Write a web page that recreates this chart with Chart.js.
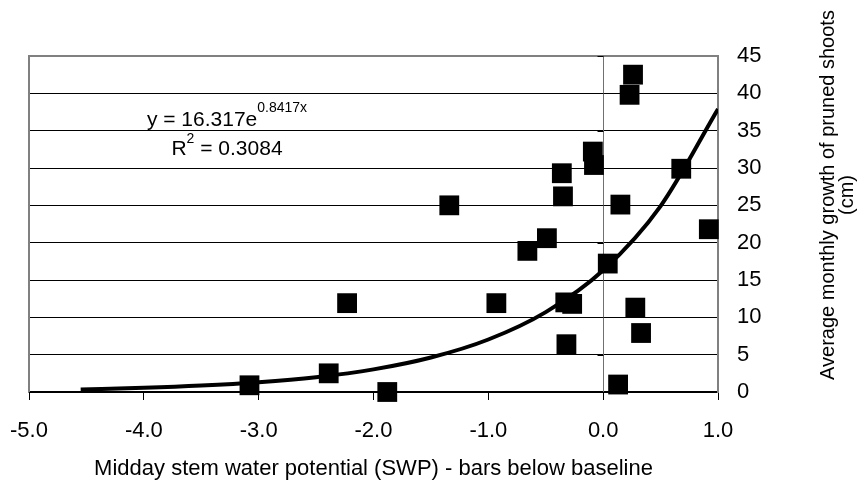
<!DOCTYPE html>
<html>
<head>
<meta charset="utf-8">
<title>SWP vs growth of pruned shoots</title>
<script src="https://cdn.jsdelivr.net/npm/chart.js@4.4.1/dist/chart.umd.min.js"></script>
<style>
  html, body { margin: 0; padding: 0; background: #fff; }
  #wrap { width: 864px; height: 487px; position: relative; }
</style>
</head>
<body>
<div id="wrap"><canvas id="chart"></canvas></div>
<script>
/* ---------- data ---------- */
const swp = [0.26, 0.23, -0.09, -0.08, -0.36, -0.35, -1.34, 0.15, 0.68, 0.92, -0.49, -0.66,
  0.04, -0.93, -0.33, -0.27, 0.28, 0.33, -0.32, 0.13, -2.23, -2.39, -3.08, -1.88];
const growth = [42.5, 39.8, 32.2, 30.4, 29.3, 26.2, 25.0, 25.1, 29.9, 21.8, 20.6, 18.9,
  17.2, 11.9, 12.0, 11.8, 11.3, 7.9, 6.4, 1.0, 11.9, 2.5, 0.9, 0.0];

// exponential trendline
const trendX = [-4.55, -4.0, -3.5, -3.0, -2.5, -2.0, -1.5, -1.0, -0.5, 0.0, 0.5, 1.0];
const trendY = [0.35, 0.56, 0.86, 1.31, 1.99, 3.03, 4.62, 7.03, 10.7, 16.3, 24.9, 37.9];

const xTicks = [-5, -4, -3, -2, -1, 0, 1];
const yTicks = [0, 5, 10, 15, 20, 25, 30, 35, 40, 45];

const xTitle = "Midday stem water potential (SWP) - bars below baseline";
const yTitle = ["Average monthly growth of pruned shoots", "(cm)"];
const eqText = { base: "y = 16.317e", exp: "0.8417x", r: "R", rExp: "2", rRest: " = 0.3084" };

const FONT = "'Liberation Sans', Arial, sans-serif";

/* ---------- plugins ---------- */
// grey plot frame + the vertical axis line crossing at x = 0
const framePlugin = {
  id: "frame",
  beforeDatasetsDraw(chart) {
    const { ctx, chartArea: a, scales } = chart;
    ctx.save();
    ctx.strokeStyle = "#808080";
    ctx.lineWidth = 2;
    ctx.beginPath();
    ctx.moveTo(a.left, a.bottom);
    ctx.lineTo(a.left, a.top);
    ctx.lineTo(a.right, a.top);
    ctx.stroke();

    const x0 = Math.round(scales.x.getPixelForValue(0)) + 0.5;
    ctx.lineWidth = 1;
    ctx.strokeStyle = "#707070";
    ctx.beginPath();
    ctx.moveTo(x0, a.top);
    ctx.lineTo(x0, a.bottom);
    ctx.stroke();
    ctx.strokeStyle = "#000";
    yTicks.forEach((v) => {
      const y = Math.round(scales.y.getPixelForValue(v)) + 0.5;
      ctx.beginPath();
      ctx.moveTo(x0 - 6, y);
      ctx.lineTo(x0, y);
      ctx.stroke();
    });
    ctx.restore();
  },
};

// axis titles and the trendline equation
const textPlugin = {
  id: "texts",
  afterDraw(chart) {
    const { ctx, chartArea: a } = chart;
    ctx.save();
    ctx.fillStyle = "#000";

    // x title
    ctx.font = `22px ${FONT}`;
    ctx.textAlign = "center";
    ctx.textBaseline = "alphabetic";
    ctx.fillText(xTitle, (a.left + a.right) / 2, 475);

    // y title, reading bottom to top
    ctx.save();
    ctx.translate(834, 195);
    ctx.rotate(-Math.PI / 2);
    ctx.font = `20px ${FONT}`;
    ctx.fillText(yTitle[0], 0, 0);
    ctx.fillText(yTitle[1], 0, 19);
    ctx.restore();

    // equation, lines centred on one x
    const cx = 227;
    ctx.textAlign = "left";
    const big = `21px ${FONT}`, small = `14px ${FONT}`;
    ctx.font = big; const w1 = ctx.measureText(eqText.base).width;
    ctx.font = small; const w2 = ctx.measureText(eqText.exp).width;
    let x = cx - (w1 + w2) / 2;
    ctx.font = big; ctx.fillText(eqText.base, x, 126);
    ctx.font = small; ctx.fillText(eqText.exp, x + w1, 112);

    ctx.font = big; const r1 = ctx.measureText(eqText.r).width;
    const r3 = ctx.measureText(eqText.rRest).width;
    ctx.font = small; const r2 = ctx.measureText(eqText.rExp).width;
    x = cx - (r1 + r2 + r3) / 2;
    ctx.font = big; ctx.fillText(eqText.r, x, 155);
    ctx.font = small; ctx.fillText(eqText.rExp, x + r1, 143);
    ctx.font = big; ctx.fillText(eqText.rRest, x + r1 + r2, 155);
    ctx.restore();
  },
};

/* ---------- chart ---------- */
Chart.defaults.font.family = FONT;
Chart.defaults.color = "#000";

new Chart(document.getElementById("chart"), {
  type: "scatter",
  data: {
    datasets: [
      {
        label: "Trend",
        data: trendX.map((x, i) => ({ x, y: trendY[i] })),
        showLine: true,
        borderColor: "#000",
        borderWidth: 4,
        pointRadius: 0,
        cubicInterpolationMode: "monotone",
      },
      {
        label: "Growth",
        data: swp.map((x, i) => ({ x, y: growth[i] })),
        pointStyle: "rect",
        pointRadius: 14,
        pointHoverRadius: 14,
        backgroundColor: "#000",
        borderWidth: 0,
        clip: false,
      },
    ],
  },
  options: {
    responsive: true,
    maintainAspectRatio: false,
    animation: false,
    events: [],
    layout: { padding: { left: 29, top: 56, right: 0, bottom: 0 } },
    plugins: { legend: { display: false }, tooltip: { enabled: false } },
    scales: {
      x: {
        type: "linear",
        position: "bottom",
        min: -5,
        max: 1,
        afterBuildTicks: (s) => { s.ticks = xTicks.map((v) => ({ value: v })); },
        afterFit: (s) => { s.height = 95; s.paddingLeft = 0; s.paddingRight = 0; },
        ticks: { callback: (v) => v.toFixed(1), font: { size: 22 }, padding: 18, maxRotation: 0, autoSkip: false },
        grid: { drawOnChartArea: false, drawTicks: true, tickLength: 8, color: "#000" },
        border: { color: "#000", width: 1.5 },
      },
      y: {
        position: "right",
        min: 0,
        max: 45,
        afterBuildTicks: (s) => { s.ticks = yTicks.map((v) => ({ value: v })); },
        afterFit: (s) => { s.width = 146; },
        ticks: { font: { size: 22 }, padding: 19, crossAlign: "near" },
        grid: { color: "#000", drawTicks: false, lineWidth: 1 },
        border: { color: "#808080", width: 2 },
      },
    },
  },
  plugins: [framePlugin, textPlugin],
});
</script>
</body>
</html>
